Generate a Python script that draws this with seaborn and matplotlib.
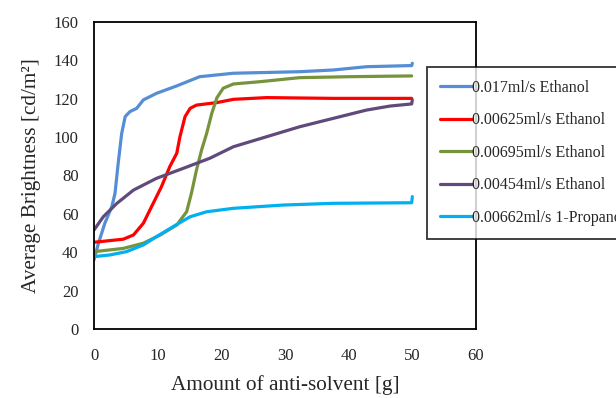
import pandas as pd
import matplotlib.pyplot as plt
import seaborn as sns

# --- DATA ---
x_017 = [0, 0.7, 1.7, 2.8, 3.3, 3.8, 4.35, 4.9, 5.65, 6.7, 7.75, 9.8, 13.0, 16.6,
         21.9, 32.3, 37.6, 42.8, 49.9, 50]
y_017 = [36, 44.7, 55.1, 63.8, 70.7, 86.4, 102, 110.7, 113.3, 115, 119.4, 122.8, 126.7, 131.5,
         133.3, 134.1, 135, 136.7, 137.3, 138.5]

x_00625 = [0, 4.6, 6.2, 7.75, 9.3, 10.6, 11.9, 13.0, 13.5, 14.3, 15.1, 16.1, 19.3,
           21.9, 27.1, 37.6, 49.9]
y_00625 = [45.2, 46.8, 49, 55.1, 65.5, 74.2, 84.6, 91.6, 100.2, 110.7, 115, 116.7, 118,
           119.7, 120.6, 120.2, 120.2]

x_00695 = [0, 4.6, 7.75, 10.4, 13.0, 14.55, 15.3, 16.1, 16.9, 17.7, 18.5, 19.3, 20.3,
           21.9, 26.1, 32.3, 40.2, 49.9]
y_00695 = [40.3, 42, 44.7, 49, 54.2, 61.1, 70.7, 82.9, 93.3, 102, 112.4, 120.5, 125.5,
           127.7, 128.9, 131, 131.5, 131.9]

x_00454 = [0, 1.46, 3.6, 6.2, 9.8, 14.0, 18.2, 21.9, 27.1, 32.3, 37.6, 42.8, 46.5, 49.9, 50]
y_00454 = [51.6, 58.5, 65.5, 72.4, 78.5, 83.7, 89, 95, 100.2, 105.4, 109.8, 114.1, 116.2, 117.3, 119.4]

x_prop = [0, 2.5, 5.1, 7.75, 9.8, 12.4, 15.1, 17.7, 21.9, 29.7, 37.6, 49.9, 50]
y_prop = [37.7, 38.6, 40.3, 43.8, 48.1, 53.3, 58.5, 61.1, 62.9, 64.6, 65.5, 65.8, 69]

labels = ["0.017ml/s Ethanol", "0.00625ml/s Ethanol", "0.00695ml/s Ethanol",
          "0.00454ml/s Ethanol", "0.00662ml/s 1-Propanol"]
colors = ["#558ED5", "#FF0000", "#77933C", "#604A7B", "#00B0F0"]
series = [(x_017, y_017), (x_00625, y_00625), (x_00695, y_00695),
          (x_00454, y_00454), (x_prop, y_prop)]

sns.set_theme(style="white")
plt.rcParams["font.family"] = ["Liberation Serif", "DejaVu Serif"]

fig = plt.figure(figsize=(6.16, 3.98), dpi=100)
ax = fig.add_axes([0.1526, 0.1734, 0.6201, 0.7713])

for (xs, ys), lab, col in zip(series, labels, colors):
    df = pd.DataFrame({"x": xs, "y": ys})
    sns.lineplot(data=df, x="x", y="y", ax=ax, color=col, linewidth=2.3,
                 label=lab, sort=False, estimator=None)
for ln in ax.get_lines():
    ln.set_solid_joinstyle("round")
    ln.set_solid_capstyle("round")

ax.set_xlim(0, 60)
ax.set_ylim(0, 160)
ax.set_xticks(range(0, 61, 10))
ax.set_yticks(range(0, 161, 20))
ax.tick_params(axis="x", labelsize=12, length=0, pad=14)
ax.tick_params(axis="y", labelsize=12, length=0, pad=11)
ax.set_xlabel("Amount of anti-solvent [g]", fontsize=15.3, labelpad=8)
ax.set_ylabel("Average Brightness [cd/m²]", fontsize=15.3, labelpad=9)
for s in ax.spines.values():
    s.set_color("black")
    s.set_linewidth(1.3)

leg = ax.legend(loc="upper left", bbox_to_anchor=(0.693, 0.832),
                bbox_transform=fig.transFigure, fontsize=11.5, frameon=True,
                fancybox=False, handlelength=2.0, handletextpad=0.05,
                labelspacing=1.04, borderpad=0.8, borderaxespad=0)
leg.get_frame().set_edgecolor("black")
leg.get_frame().set_linewidth(1.3)

fig.savefig("out.png", dpi=100)
